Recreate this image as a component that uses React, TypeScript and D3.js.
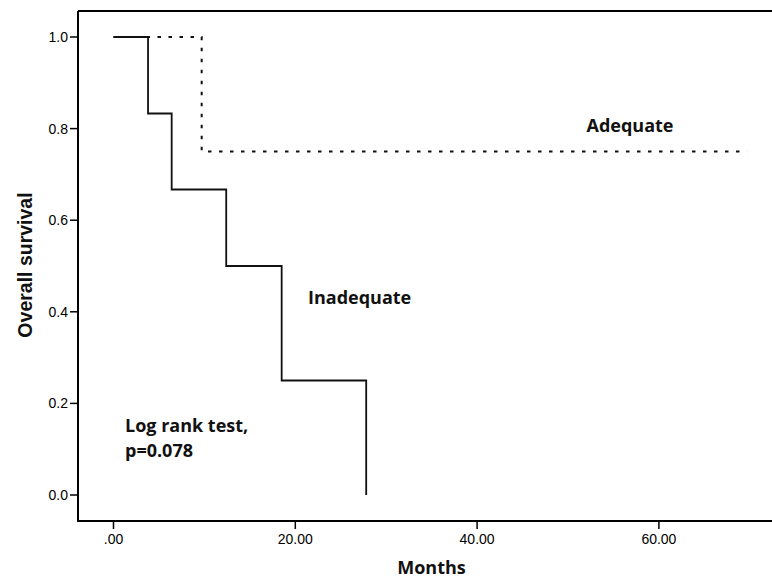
import React from "react";
import * as d3 from "d3";

const inadequateTimes = [0, 3.8, 6.4, 12.4, 18.5, 27.8];
const inadequateSurv = [1.0, 0.833, 0.667, 0.5, 0.25, 0.0];
const adequateTimes = [0, 9.7];
const adequateSurv = [1.0, 0.75];
const adequateEnd = 69.7;
const inadequateEnd = 27.8;
const xTicks = [0, 20, 40, 60];
const yTicks = [0, 0.2, 0.4, 0.6, 0.8, 1.0];

const W = 772, H = 581;
const frameLeft = 78, frameTop = 11, frameBottom = 521;

function stepPath(times: number[], surv: number[], end: number, x: any, y: any) {
  const pts: [number, number][] = [];
  for (let i = 0; i < times.length; i++) {
    if (i > 0) pts.push([times[i], surv[i - 1]]);
    pts.push([times[i], surv[i]]);
  }
  const last = pts[pts.length - 1];
  if (end > last[0]) pts.push([end, last[1]]);
  return d3.line<[number, number]>().x(d => x(d[0])).y(d => y(d[1]))(pts) || "";
}

export default function App() {
  const x = d3.scaleLinear().domain([0, 20]).range([113.5, 295.3]);
  const y = d3.scaleLinear().domain([0, 1]).range([495, 37]);
  const tickFont = "'Liberation Sans', Arial, sans-serif";
  const labelFont = "'Open Sans', 'Noto Sans', sans-serif";
  return (
    <svg width={W} height={H} style={{ position: "absolute", left: 0, top: 0, background: "#fff" }}>
      <rect width={W} height={H} fill="#fff" />
      {/* frame */}
      <path d={`M${frameLeft},${frameTop} H${W} M${frameLeft},${frameTop} V${frameBottom} H${W}`} fill="none" stroke="#000" strokeWidth={2} />
      {/* y ticks */}
      {yTicks.map(t => (
        <g key={t}>
          <line x1={frameLeft - 8} x2={frameLeft} y1={y(t)} y2={y(t)} stroke="#000" strokeWidth={1.5} />
          <text x={frameLeft - 10} y={y(t)} dy="0.35em" textAnchor="end" fontFamily={tickFont} fontSize={14} fill="#000">{t.toFixed(1)}</text>
        </g>
      ))}
      {/* x ticks */}
      {xTicks.map(t => (
        <g key={t}>
          <line x1={x(t)} x2={x(t)} y1={frameBottom} y2={frameBottom + 8} stroke="#000" strokeWidth={1.5} />
          <text x={x(t)} y={frameBottom + 23} textAnchor="middle" fontFamily={tickFont} fontSize={14} fill="#000">{t === 0 ? ".00" : t.toFixed(2)}</text>
        </g>
      ))}
      {/* curves */}
      <path d={stepPath(adequateTimes, adequateSurv, adequateEnd, x, y)} fill="none" stroke="#111" strokeWidth={2} strokeDasharray="3.5,7.5" />
      <path d={stepPath(inadequateTimes, inadequateSurv, inadequateEnd, x, y)} fill="none" stroke="#111" strokeWidth={1.8} />
      {/* labels */}
      <text x={630} y={132} textAnchor="middle" fontFamily={labelFont} fontWeight="bold" fontSize={18} fill="#111">Adequate</text>
      <text x={308} y={304} fontFamily={labelFont} fontWeight="bold" fontSize={18} fill="#111">Inadequate</text>
      <text x={125} y={432} fontFamily={labelFont} fontWeight="bold" fontSize={18} fill="#111">Log rank test,</text>
      <text x={125} y={457} fontFamily={labelFont} fontWeight="bold" fontSize={18} fill="#111">p=0.078</text>
      <text x={431.5} y={574} textAnchor="middle" fontFamily={labelFont} fontWeight="bold" fontSize={18} fill="#111">Months</text>
      <text transform="translate(32,265) rotate(-90)" textAnchor="middle" fontFamily={tickFont} fontWeight="bold" fontSize={19.5} fill="#111">Overall survival</text>
    </svg>
  );
}
